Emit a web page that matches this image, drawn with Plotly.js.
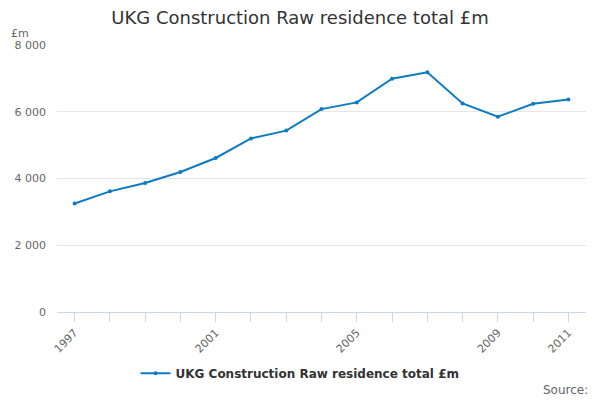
<!DOCTYPE html>
<html>
<head>
<meta charset="utf-8">
<script src="https://cdn.plot.ly/plotly-3.0.1.min.js"></script>
<style>
  html, body { margin: 0; padding: 0; background: #fff; }
  #chart { width: 600px; height: 400px; }
</style>
</head>
<body>
<div id="chart"></div>
<script>
const years = [1997, 1998, 1999, 2000, 2001, 2002, 2003, 2004, 2005, 2006, 2007, 2008, 2009, 2010, 2011];
const residenceTotal = [3250, 3615, 3865, 4195, 4615, 5200, 5435, 6080, 6280, 6990, 7180, 6250, 5850, 6240, 6370];
const yearLabels = ['1997', '', '', '', '2001', '', '', '', '2005', '', '', '', '2009', '', '2011'];
const seriesName = 'UKG Construction Raw residence total £m';

const trace = {
    x: years,
    y: residenceTotal,
    type: 'scatter',
    mode: 'lines+markers',
    name: seriesName,
    line: { color: '#0d7bc2', width: 2 },
    marker: { color: '#0d7bc2', size: 4 }
};

const layout = {
    width: 600,
    height: 400,
    font: { family: 'DejaVu Sans, sans-serif', color: '#666' },
    paper_bgcolor: '#fff',
    plot_bgcolor: '#fff',
    separators: '. ',
    title: {
        text: 'UKG Construction Raw residence total £m',
        font: { size: 18, color: '#333' },
        x: 0.5,
        xanchor: 'center',
        y: 0.955,
        yanchor: 'middle'
    },
    margin: { t: 45, l: 57, r: 14, b: 88 },
    showlegend: true,
    legend: {
        orientation: 'h',
        xref: 'container',
        yref: 'container',
        x: 0.5,
        xanchor: 'center',
        y: 0.067,
        yanchor: 'middle',
        itemwidth: 30,
        font: { size: 12, color: '#333', weight: 'bold' }
    },
    xaxis: {
        range: [1996.5, 2011.5],
        tickmode: 'array',
        tickvals: years,
        ticktext: yearLabels,
        tickangle: -45,
        ticks: 'outside',
        ticklen: 9,
        tickcolor: '#ccd6eb',
        showline: true,
        linecolor: '#ccd6eb',
        showgrid: false,
        zeroline: false,
        tickfont: { size: 11, color: '#666' },
        fixedrange: true,
        automargin: false
    },
    yaxis: {
        range: [0, 8000],
        tickvals: [0, 2000, 4000, 6000, 8000],
        tickformat: ',d',
        showgrid: true,
        gridcolor: '#e6e6e6',
        zeroline: false,
        showline: false,
        ticks: '',
        ticklabelstandoff: 10,
        tickfont: { size: 11, color: '#666' },
        fixedrange: true,
        automargin: false
    },
    annotations: [
        {
            text: '£m',
            xref: 'paper', yref: 'paper',
            x: -0.09, y: 1.012,
            xanchor: 'left', yanchor: 'bottom',
            showarrow: false,
            font: { size: 11, color: '#666' }
        },
        {
            text: 'Source:',
            xref: 'paper', yref: 'paper',
            x: 1.008, y: -0.26,
            xanchor: 'right', yanchor: 'top',
            showarrow: false,
            font: { size: 12, color: '#666' }
        }
    ]
};

Plotly.newPlot('chart', [trace], layout, { displayModeBar: false, staticPlot: true });
</script>
</body>
</html>
